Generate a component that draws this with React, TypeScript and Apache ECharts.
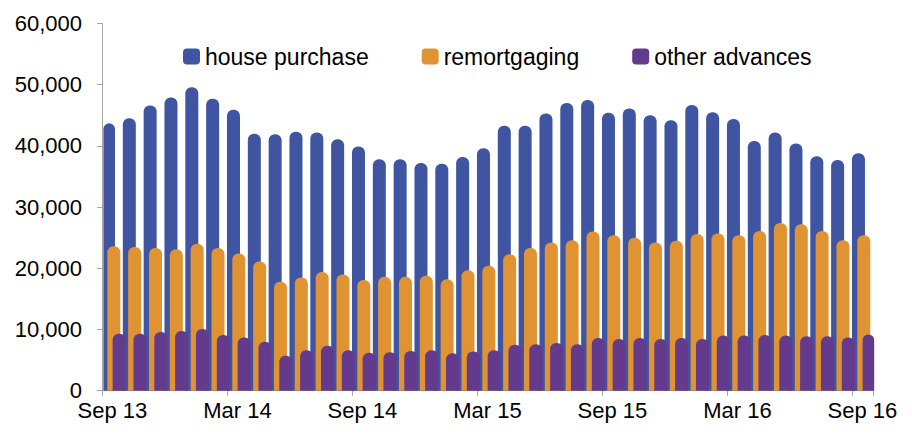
import React, { useEffect, useRef } from "react";
import * as echarts from "echarts";

const categories = [
  "Sep 13", "Oct 13", "Nov 13", "Dec 13", "Jan 14", "Feb 14", "Mar 14", "Apr 14", "May 14", "Jun 14",
  "Jul 14", "Aug 14", "Sep 14", "Oct 14", "Nov 14", "Dec 14", "Jan 15", "Feb 15", "Mar 15", "Apr 15",
  "May 15", "Jun 15", "Jul 15", "Aug 15", "Sep 15", "Oct 15", "Nov 15", "Dec 15", "Jan 16", "Feb 16",
  "Mar 16", "Apr 16", "May 16", "Jun 16", "Jul 16", "Aug 16", "Sep 16",
];

const housePurchase = [
  43700, 44500, 46600, 47900, 49600, 47700, 45900, 42000, 41900, 42300,
  42200, 41100, 39900, 37800, 37800, 37200, 37100, 38200, 39600, 43300,
  43300, 45300, 47000, 47500, 45400, 46100, 45000, 44200, 46700, 45500,
  44400, 40800, 42200, 40400, 38300, 37700, 38800,
];

const remortgaging = [
  23600, 23500, 23300, 23100, 24000, 23300, 22400, 21100, 17800, 18500,
  19400, 19000, 18100, 18600, 18600, 18800, 18200, 19700, 20400, 22300,
  23300, 24200, 24600, 26000, 25400, 25000, 24200, 24500, 25600, 25700,
  25400, 26100, 27400, 27200, 26100, 24600, 25400,
];

const otherAdvances = [
  9300, 9300, 9600, 9750, 10100, 9100, 8700, 8000, 5700, 6600,
  7350, 6600, 6200, 6300, 6500, 6600, 6100, 6400, 6600, 7500,
  7600, 7800, 7600, 8600, 8450, 8600, 8450, 8600, 8450, 9000,
  9000, 9100, 9000, 8900, 8900, 8700, 9200,
];

const seriesNames = ["house purchase", "remortgaging", "other advances"];
const seriesColors = ["#3F55A2", "#DF9333", "#633A8C"];
const yTickLabels = ["0", "10,000", "20,000", "30,000", "40,000", "50,000", "60,000"];

const FONT = "'Liberation Sans', Arial, Helvetica, sans-serif";
const AXIS_GRAY = "#A6A6A6";

export default function App() {
  const ref = useRef<HTMLDivElement>(null);

  useEffect(() => {
    if (!ref.current) return;
    const chart = echarts.init(ref.current, undefined, { renderer: "svg" });
    const seriesData = [housePurchase, remortgaging, otherAdvances];

    chart.setOption({
      animation: false,
      backgroundColor: "#ffffff",
      legend: {
        data: seriesNames,
        left: 183,
        top: 45,
        padding: 0,
        icon: "roundRect",
        itemWidth: 17,
        itemHeight: 16,
        itemGap: 53,
        textStyle: { fontSize: 23, color: "#000", fontFamily: FONT },
      },
      grid: [
        { left: 102, right: 39.2, top: 23.5, bottom: 50.3 },
        { left: 103.4, right: 37.8, top: 23.5, bottom: 50.3 },
      ],
      xAxis: [
        {
          type: "category",
          gridIndex: 0,
          data: categories,
          boundaryGap: true,
          axisLine: { show: true, lineStyle: { color: AXIS_GRAY, width: 1 } },
          axisTick: { show: true, interval: 5, length: 5, lineStyle: { color: AXIS_GRAY } },
          axisLabel: { interval: 5, color: "#000", fontSize: 22, fontFamily: FONT, margin: 9 },
          splitLine: { show: false },
        },
        { type: "category", gridIndex: 1, data: categories, show: false },
      ],
      yAxis: [
        {
          type: "value",
          gridIndex: 0,
          min: 0,
          max: 60000,
          interval: 10000,
          splitLine: { show: false },
          axisLine: { show: true, lineStyle: { color: AXIS_GRAY, width: 1 } },
          axisTick: { show: true, length: 5, lineStyle: { color: AXIS_GRAY } },
          axisLabel: {
            color: "#000",
            fontSize: 22,
            fontFamily: FONT,
            margin: 20,
            formatter: (v: number) => yTickLabels[Math.round(v / 10000)] ?? String(v),
          },
        },
        { type: "value", gridIndex: 1, min: 0, max: 60000, interval: 10000, show: false, splitLine: { show: false } },
      ],
      series: seriesNames.map((name, i) => ({
        name,
        type: "bar",
        xAxisIndex: 1,
        yAxisIndex: 1,
        data: seriesData[i],
        barWidth: 13,
        barGap: "-59%",
        itemStyle: { color: seriesColors[i], borderRadius: [6, 6, 0, 0] },
      })),
    });

    return () => chart.dispose();
  }, []);

  return (
    <div
      ref={ref}
      style={{ position: "fixed", left: 0, top: 0, width: 912, height: 441, background: "#fff" }}
    />
  );
}
